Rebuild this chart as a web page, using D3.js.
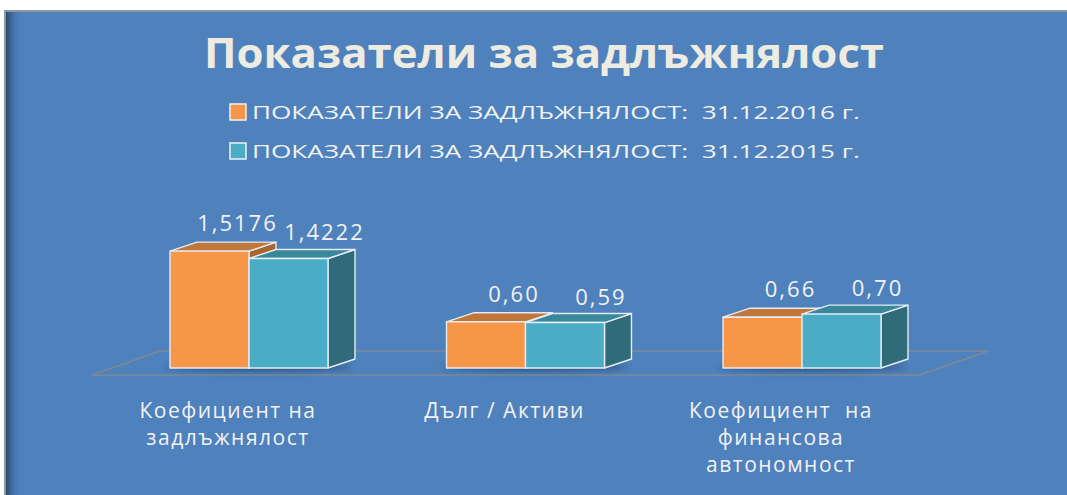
<!DOCTYPE html>
<html><head><meta charset="utf-8">
<script src="https://cdn.jsdelivr.net/npm/d3@7"></script>
<style>
html,body{margin:0;padding:0;background:#fff;}
svg{display:block;}
text{font-family:"Open Sans","Noto Sans",sans-serif;white-space:pre;}
</style></head>
<body>
<script>
const title = "Показатели за задлъжнялост";
const categories = [["Коефициент на","задлъжнялост"],["Дълг / Активи"],["Коефициент  на","финансова","автономност"]];
const seriesNames = ["ПОКАЗАТЕЛИ ЗА ЗАДЛЪЖНЯЛОСТ:  31.12.2016 г.","ПОКАЗАТЕЛИ ЗА ЗАДЛЪЖНЯЛОСТ:  31.12.2015 г."];
const values2016 = [1.5176, 0.60, 0.66];
const values2015 = [1.4222, 0.59, 0.70];
const labels2016 = ["1,5176","0,60","0,66"];
const labels2015 = ["1,4222","0,59","0,70"];

const W = 1067, H = 495;
const svg = d3.select("body").append("svg").attr("width", W).attr("height", H);
const defs = svg.append("defs");
const lg = defs.append("linearGradient").attr("id","leftShade").attr("x1","0").attr("x2","1");
lg.append("stop").attr("offset","0").attr("stop-color","#2a476c");
lg.append("stop").attr("offset","1").attr("stop-color","#4F81BD").attr("stop-opacity",0);
defs.append("filter").attr("id","blur").attr("x","-50%").attr("y","-200%").attr("width","200%").attr("height","500%")
  .append("feGaussianBlur").attr("stdDeviation", 3);

// panel
svg.append("rect").attr("x",4).attr("y",10).attr("width",W-4).attr("height",H-10).attr("fill","#8c97a6");
svg.append("rect").attr("x",6).attr("y",12).attr("width",W-6).attr("height",H-12).attr("fill","#4F81BD");
svg.append("rect").attr("x",6).attr("y",12).attr("width",16).attr("height",H-12).attr("fill","url(#leftShade)");

// title
svg.append("text").attr("x",544).attr("y",68).attr("text-anchor","middle")
  .attr("font-size",41).attr("font-weight","bold").attr("fill","#EEECE1")
  .attr("textLength",680).attr("lengthAdjust","spacingAndGlyphs").text(title);

const colors = [
  {front:"#F79646", top:"#C0773A", side:"#A9652F"},
  {front:"#4BACC6", top:"#39879A", side:"#2F6B79"}
];
const labelDx = [1, 9], labelDy = [11, 9];

// legend
const leg = svg.append("g");
seriesNames.forEach((s,i)=>{
  const cy = 112 + i*39;
  leg.append("rect").attr("x",230).attr("y",cy-8).attr("width",16).attr("height",16)
    .attr("fill",colors[i].front).attr("stroke","#F2F2F2").attr("stroke-width",1.5);
  leg.append("text").attr("x",252).attr("y",cy+7).attr("font-size",19).attr("fill","#F2F2F2")
    .attr("textLength",608).attr("lengthAdjust","spacingAndGlyphs").text(s);
});

// scales
const catIdx = d3.range(categories.length);
const x = d3.scaleBand().domain(catIdx).range([170, 881]).paddingInner(0.4286);
const xs = d3.scaleBand().domain([0,1]).range([0, x.bandwidth()]);
const y = d3.scaleLinear().domain([0, 2]).range([368, 214]);
const DX = 27, DY = 9;

// floor
const fl = x.range()[0] - 78, fr = x.range()[1] + 39, fy = y(0) + 7, fdx = 68, fdy = 24;
svg.append("path")
  .attr("d", `M${fl},${fy} L${fr},${fy} L${fr+fdx},${fy-fdy} L${fl+fdx},${fy-fdy} Z`)
  .attr("fill","none").attr("stroke","#7f8a98").attr("stroke-width",1.6);

const data = catIdx.map(i=>[
  {s:0, i, v:values2016[i], lab:labels2016[i]},
  {s:1, i, v:values2015[i], lab:labels2015[i]}
]);

// shadows
catIdx.forEach(i=>{
  const x0 = x(i);
  svg.append("ellipse").attr("cx", x0 + x.bandwidth()/2 + 10).attr("cy", y(0) - 1)
    .attr("rx", x.bandwidth()/2 + 14).attr("ry", 4).attr("fill","#1d3350").attr("opacity",0.6)
    .attr("filter","url(#blur)");
});

const bars = svg.append("g");
data.forEach(group=>{
  group.forEach(d=>{
    const x0 = x(d.i) + xs(d.s), w = xs.bandwidth(), yt = y(d.v), yb = y(0);
    const c = colors[d.s];
    const g = bars.append("g").attr("stroke","#E4ECF6").attr("stroke-width",1.4).attr("stroke-linejoin","round");
    g.append("path").attr("d",`M${x0+w},${yt} L${x0+w+DX},${yt-DY} L${x0+w+DX},${yb-DY} L${x0+w},${yb} Z`).attr("fill",c.side);
    g.append("path").attr("d",`M${x0},${yt} L${x0+DX},${yt-DY} L${x0+w+DX},${yt-DY} L${x0+w},${yt} Z`).attr("fill",c.top);
    g.append("rect").attr("x",x0).attr("y",yt).attr("width",w).attr("height",yb-yt).attr("fill",c.front);
  });
});

// data labels
data.forEach(group=>{
  group.forEach(d=>{
    const x0 = x(d.i) + xs(d.s), w = xs.bandwidth(), yt = y(d.v);
    svg.append("text").attr("x", x0 + w/2 + DX + labelDx[d.s]).attr("y", yt - DY - labelDy[d.s])
      .attr("text-anchor","middle").attr("font-size",22).attr("letter-spacing","2px")
      .attr("fill","#F2F2F2").text(d.lab);
  });
});

// category labels
categories.forEach((lines,i)=>{
  const cx = x(i) + x.bandwidth()/2 - 21;
  lines.forEach((ln,k)=>{
    svg.append("text").attr("text-anchor","middle").attr("font-size",21).attr("letter-spacing","1.5px")
      .attr("fill","#F2F2F2").attr("x",cx).attr("y",418 + k*27).text(ln);
  });
});
</script>
</body></html>
